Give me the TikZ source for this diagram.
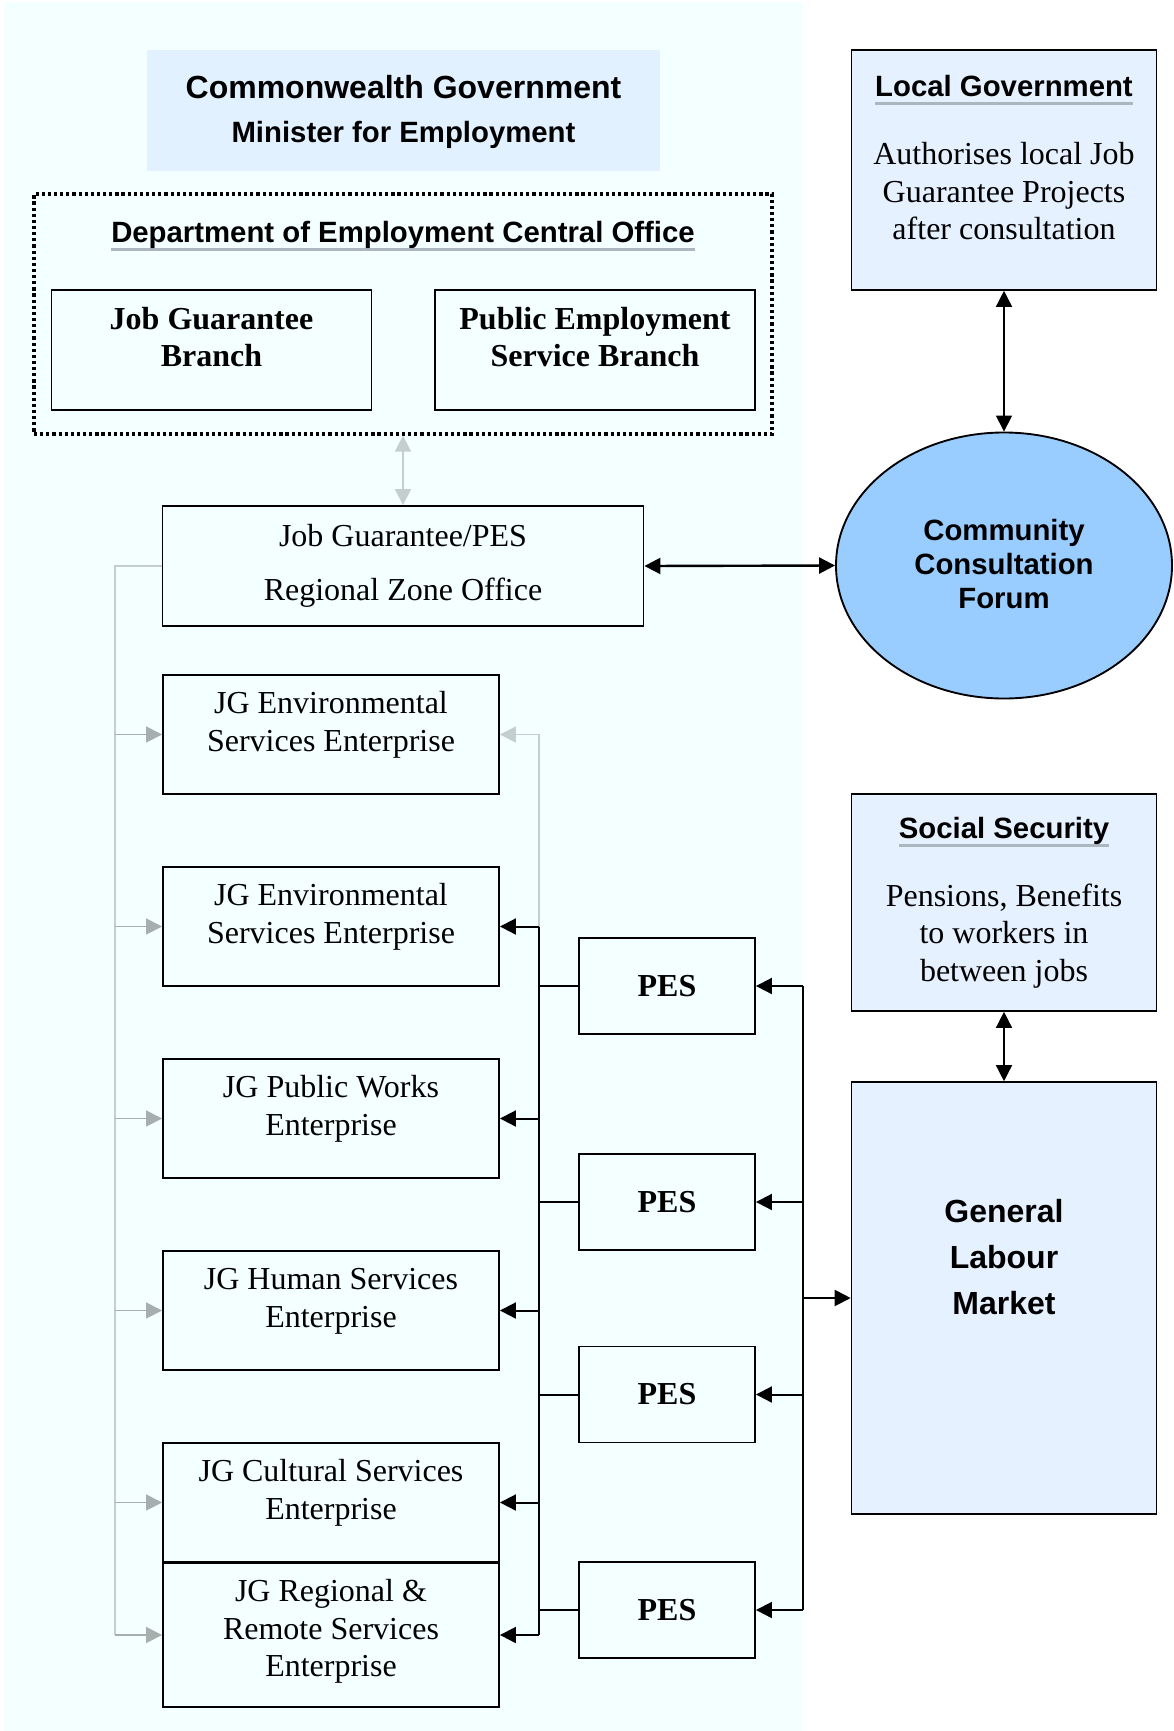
\documentclass[tikz,border=0pt]{standalone}
\usepackage{fontspec}
\setmainfont{Liberation Serif}
\setsansfont{Liberation Sans}
\usetikzlibrary{arrows.meta,shapes.geometric}

\definecolor{panelcol}{RGB}{244,255,255}
\definecolor{cwblue}{RGB}{225,241,255}
\definecolor{sideblue}{RGB}{229,241,255}
\definecolor{forumblue}{RGB}{153,204,255}
\definecolor{ulgrey}{RGB}{172,182,190}
\definecolor{linegrey}{RGB}{196,206,206}
\definecolor{stubgrey}{RGB}{166,174,174}

\newcommand\grayul[1]{\setbox0\hbox{#1}\rlap{\color{ulgrey}\rule[-6.5pt]{\wd0}{2.5pt}}\box0}
\newcommand\headtxt[1]{{\fontsize{22}{28}\selectfont\sffamily\bfseries\grayul{#1}}}
\newcommand\boxtext[2][0pt]{\begin{tabular}{@{}c@{}}#2\\[#1]\end{tabular}}

\begin{document}
\begin{tikzpicture}[x=0.75pt,y=-0.75pt,>={Triangle[length=12pt,width=12pt]},
    serif/.style={font=\fontsize{24}{28}\selectfont},
    bsans/.style={font=\fontsize{24}{28}\selectfont\sffamily\bfseries},
    ent/.style={draw,line width=1.4pt,inner sep=0pt,minimum width=252pt,minimum height=89.25pt,serif},
    pes/.style={draw,line width=1.4pt,inner sep=0pt,minimum width=132pt,minimum height=72pt,font=\fontsize{24}{28}\selectfont\bfseries},
    branch/.style={draw,line width=1.4pt,inner sep=0pt,minimum width=240pt,minimum height=90pt,font=\fontsize{24}{28}\selectfont\bfseries},
    sidebox/.style={draw,line width=1.2pt,fill=sideblue,inner sep=0pt,minimum width=228.75pt,serif},
    blk/.style={line width=1.5pt},
    greyline/.style={draw=linegrey,line width=1.1pt}]
  \useasboundingbox (0,0) rectangle (1174,1731);
  \fill[panelcol] (4,2) rectangle (803,1731);

  % central office
  \node[fill=cwblue,inner sep=0pt,minimum width=384.75pt,minimum height=90.75pt,bsans] (cw) at (403.5,110.5)
    {\boxtext[-4pt]{Commonwealth Government\\[5pt]{\fontsize{22}{28}\selectfont Minister for Employment}}};
  \node[draw,line width=2.4pt,dash pattern=on 2.4pt off 2.2pt,inner sep=0pt,minimum width=553.5pt,minimum height=180pt] (dept) at (403,314) {};
  \node[font=\fontsize{22}{28}\selectfont\sffamily\bfseries] (depthead) at (403,236) {\grayul{Department of Employment Central Office}};
  \node[branch] (jgb) at (211.5,350) {\boxtext[14pt]{Job Guarantee\\Branch}};
  \node[branch] (pesb) at (595,350) {\boxtext[14pt]{Public Employment\\Service Branch}};

  % regional office and enterprises
  \node[ent,minimum width=360.75pt,minimum height=90pt] (reg) at (403,566) {\boxtext{Job Guarantee/PES\\[12pt]Regional Zone Office}};
  \node[ent] (e1) at (331,734.5) {\boxtext[14pt]{JG Environmental\\Services Enterprise}};
  \node[ent] (e2) at (331,926.5) {\boxtext[14pt]{JG Environmental\\Services Enterprise}};
  \node[ent] (e3) at (331,1118.5) {\boxtext[14pt]{JG Public Works\\Enterprise}};
  \node[ent] (e4) at (331,1310.5) {\boxtext[14pt]{JG Human Services\\Enterprise}};
  \node[ent] (e5) at (331,1502.5) {\boxtext[14pt]{JG Cultural Services\\Enterprise}};
  \node[ent,minimum height=108pt] (e6) at (331,1635) {\boxtext[5pt]{JG Regional \&\\Remote Services\\Enterprise}};
  \foreach \i/\y in {1/986,2/1202,3/1394.5,4/1610}
    \node[pes] (p\i) at (667,\y) {PES};

  % right column
  \node[sidebox,minimum height=180pt] (lg) at (1004,170)
    {\boxtext[14pt]{\headtxt{Local Government}\\[23pt]Authorises local Job\\Guarantee Projects\\after consultation}};
  \node[draw,ellipse,line width=1.4pt,fill=forumblue,inner sep=0pt,minimum width=252pt,minimum height=199.5pt,
        font=\fontsize{22}{25.5}\selectfont\sffamily\bfseries] (ccf) at (1004,565.5) {\boxtext[-4pt]{Community\\Consultation\\Forum}};
  \node[sidebox,minimum height=162.75pt] (ss) at (1004,902.5)
    {\boxtext{\headtxt{Social Security}\\[23pt]Pensions, Benefits\\to workers in\\between jobs}};
  \node[sidebox,minimum height=324pt,font=\fontsize{24}{34.5}\selectfont\sffamily\bfseries] (glm) at (1004,1298)
    {\boxtext[58pt]{General\\Labour\\Market}};

  % connectors
  \coordinate (lbus) at (115,0);
  \coordinate (rbus) at (539,0);
  \coordinate (pbus) at (803,0);
  \draw[greyline,<->] (dept.south) -- (reg.north);
  \draw[greyline] (reg.west) -| (e6.west -| lbus);
  \foreach \ent in {e1,e2,e3,e4,e5,e6}
    \draw[greyline,draw=stubgrey,->] (\ent.west -| lbus) -- (\ent.west);
  \draw[greyline,->] (e2.east -| rbus) |- (e1.east);
  \draw[blk] (e2.east -| rbus) -- (e6.east -| rbus);
  \foreach \ent in {e2,e3,e4,e5,e6}
    \draw[blk,->] (\ent.east -| rbus) -- (\ent.east);
  \foreach \i in {1,...,4}{
    \draw[blk] (p\i.west) -- (p\i.west -| rbus);
    \draw[blk,->] (p\i.east -| pbus) -- (p\i.east);
  }
  \draw[blk] (p1.east -| pbus) -- (p4.east -| pbus);
  \draw[blk,->] (glm.west -| pbus) -- (glm.west);
  \draw[line width=1.8pt,<->] (reg.east) -- (ccf.west);
  \draw[line width=1.1pt,<->] (lg.south) -- (ccf.north);
  \draw[line width=1.1pt,<->] (ss.south) -- (glm.north);
\end{tikzpicture}
\end{document}
